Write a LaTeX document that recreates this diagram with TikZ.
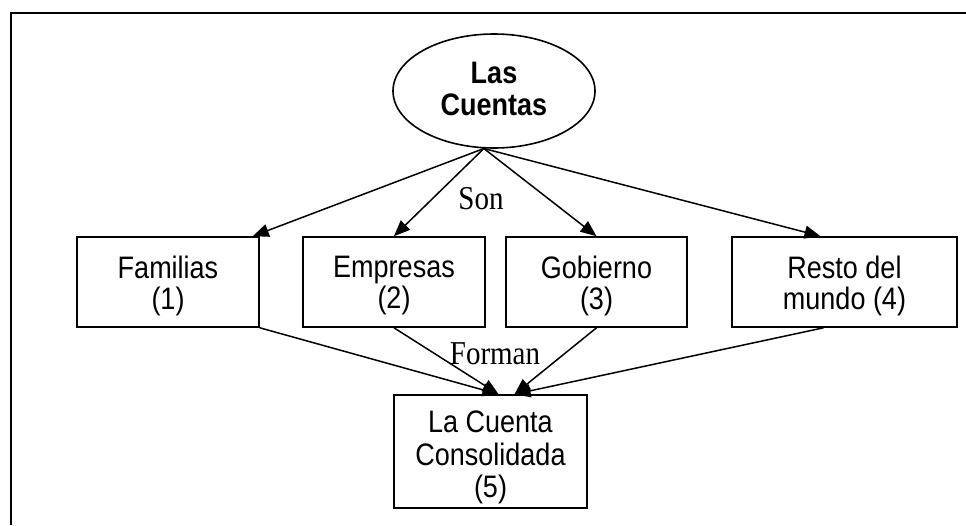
\documentclass[tikz,border=0pt]{standalone}
\usepackage{fontspec}
\setmainfont{Liberation Sans}
\newfontfamily\tnrfont{Liberation Serif}
\usetikzlibrary{shapes.geometric,arrows.meta}
\newcommand{\vstretch}[1]{\scalebox{1}[1.15]{#1}}
\newcommand{\boxtext}[2][0pt]{\raisebox{#1}[\height][\depth]{\vstretch{\begin{tabular}{@{}c@{}}#2\end{tabular}}}}
\tikzset{
  boxnode/.style={draw=black, line width=1.6pt, rectangle, inner sep=0pt,
    font=\fontsize{27}{26}\selectfont},
  ellnode/.style={draw=black, line width=1.6pt, ellipse, inner sep=0pt,
    minimum width=202pt, minimum height=114pt, font=\fontsize{27}{27.5}\selectfont\bfseries},
  conn/.style={line width=1.5pt, -{Triangle[length=16pt,width=13pt]}},
  lbl/.style={font=\tnrfont\fontsize{29}{30}\selectfont, inner sep=0pt},
  framed/.style={line width=2pt}
}
\begin{document}
\begin{tikzpicture}[x=1pt,y=-1pt]
\useasboundingbox (0,0) rectangle (966,525);
\draw[framed] (10.5,525) -- (10.5,12.5) -- (966,12.5);
\node[ellnode] (ell) at (494,91) {\boxtext[-2pt]{Las\\Cuentas}};
\node[boxnode, minimum width=182pt, minimum height=90pt] (fam) at (168,282) {\boxtext[-5pt]{Familias\\(1)}};
\node[boxnode, minimum width=182pt, minimum height=90pt] (emp) at (394,282) {\boxtext[-5pt]{Empresas\\(2)}};
\node[boxnode, minimum width=181pt, minimum height=90pt] (gob) at (596.5,282) {\boxtext[-5pt]{Gobierno\\(3)}};
\node[boxnode, minimum width=225pt, minimum height=90pt] (res) at (844.5,282) {\boxtext[-5pt]{Resto del\\mundo (4)}};
\node[boxnode, font=\fontsize{27}{28.5}\selectfont, minimum width=193pt, minimum height=113pt] (con) at (490.5,451.5) {\boxtext[-7pt]{La Cuenta\\Consolidada\\(5)}};
\node[lbl] (son) at (481,199) {\vstretch{Son}};
\node[lbl] (forman) at (495,354) {\vstretch{Forman}};
\draw[conn] (ell.260) -- ([xshift=-7pt]fam.north east);
\draw[conn] (ell.260) -- (emp.north);
\draw[conn] (ell.260) -- (gob.north);
\draw[conn] (ell.260) -- ([xshift=-24pt]res.north);
\draw[conn] (fam.south east) -- ([xshift=8pt]con.north);
\draw[conn] (emp.south) -- ([xshift=8pt]con.north);
\draw[conn] (gob.south) -- ([xshift=24pt]con.north);
\draw[conn] ([xshift=-21pt]res.south) -- ([xshift=24pt]con.north);
\end{tikzpicture}
\end{document}
